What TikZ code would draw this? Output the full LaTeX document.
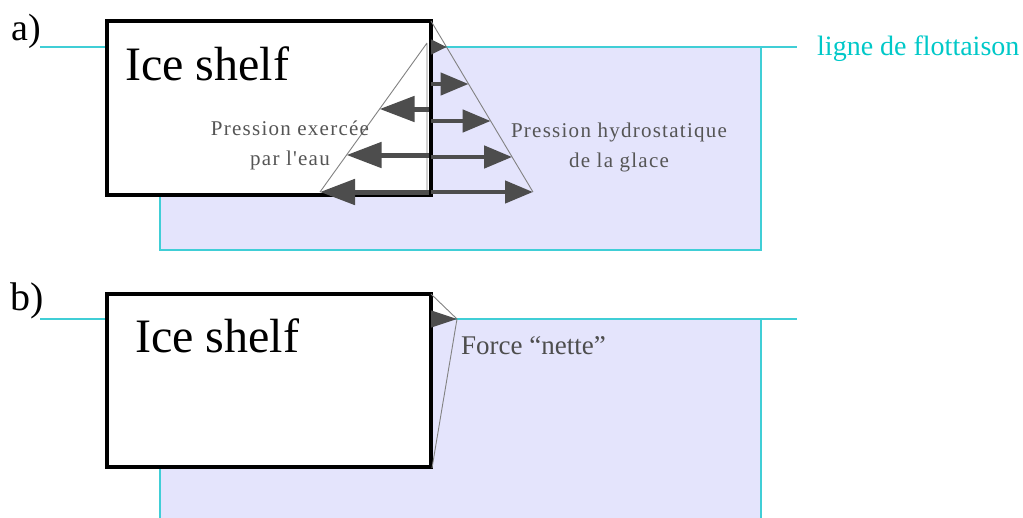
\documentclass[tikz,border=0pt]{standalone}
\usepackage{fontspec}
\setmainfont{Liberation Serif}
\newfontfamily\spaced[LetterSpace=6]{Liberation Serif}
\usetikzlibrary{arrows.meta}
\definecolor{eau}{RGB}{228,228,252}
\definecolor{flottaison}{RGB}{64,206,214}
\definecolor{flottexte}{RGB}{0,200,200}
\definecolor{fleche}{RGB}{77,77,77}
\definecolor{trait}{RGB}{130,130,130}
\definecolor{texte}{RGB}{85,85,85}

\begin{document}
\begin{tikzpicture}[x=1pt,y=-1pt,
    shelf/.style={draw=black,line width=4pt,fill=white},
    water/.style={draw=flottaison,line width=1.5pt,fill=eau},
    waterline/.style={draw=flottaison,line width=1.5pt},
    tri/.style={draw=trait,line width=0.9pt},
    push/.style={draw=fleche,fill=fleche,line width=4.5pt,-{Triangle[length=28pt,width=22pt]}},
    pull/.style={push,line width=5pt,-{Triangle[length=35pt,width=25pt]}},
    tag/.style={inner sep=0pt,anchor=base west},
    note/.style={text=texte,align=center,inner sep=0pt,font=\spaced\fontsize{21}{30}\selectfont}]
      \clip (0,0) rectangle (1023,517);
      \def\front{431}
      % a) pressions de part et d'autre du front
      \begin{scope}
        \node[tag,font=\fontsize{38}{40}\selectfont] (a) at (11,40) {a)};
        \draw[waterline] (40,47) -- (107,47);
        \draw[water] (160,47) rectangle (761,250);
        \draw[waterline] (761,47) -- (797,47);
        \node[tag,text=flottexte,font=\fontsize{28}{30}\selectfont] (flot) at (817,55) {ligne de flottaison};
        \draw[shelf] (107,21) coordinate (shelfA) rectangle (\front,195);
        \node[tag,font=\fontsize{48}{50}\selectfont] (iceA) at (125,80) {Ice shelf};
        \coordinate (glace) at (533,192);
        \coordinate (topeau) at (427,43);
        \coordinate (eau) at (320,192);
        \draw[tri] (\front,21) -- (glace);
        \draw[tri] (topeau) -- (eau) (topeau) -- (427,192);
        \draw[push,-{Triangle[length=16pt,width=14pt]}] (\front,47) -- (447,47);
        \foreach \y in {84,121,157,192}
          \draw[push] (\front,\y) -- ({\front+(\y-21)/171*102},\y);
        \foreach \y in {109,155,192}
          \draw[pull] (429,\y) -- ({427-(\y-43)/149*107},\y);
        \node[note] (pe) at (290,145) {Pression exercée\\par l'eau};
        \node[note] (ph) at (619,147) {Pression hydrostatique\\de la glace};
      \end{scope}
      % b) force nette
      \begin{scope}
        \node[tag,font=\fontsize{40}{42}\selectfont] (b) at (10,310) {b)};
        \draw[waterline] (40,319) -- (107,319);
        \draw[water] (160,319) rectangle (761,530);
        \draw[waterline] (761,319) -- (797,319);
        \draw[shelf] (107,294) coordinate (shelfB) rectangle (\front,467);
        \node[tag,font=\fontsize{48}{50}\selectfont] (iceB) at (135,352) {Ice shelf};
        \coordinate (nette) at (457,319);
        \draw[tri] (\front,294) -- (nette) -- (432,468);
        \draw[push,line width=1pt,-{Triangle[length=26pt,width=17pt]}] (\front,319) -- (nette);
        \node[tag,text=fleche,font=\fontsize{27}{29}\selectfont] (fn) at (461,354) {Force “nette”};
      \end{scope}
    \end{tikzpicture}
\end{document}
